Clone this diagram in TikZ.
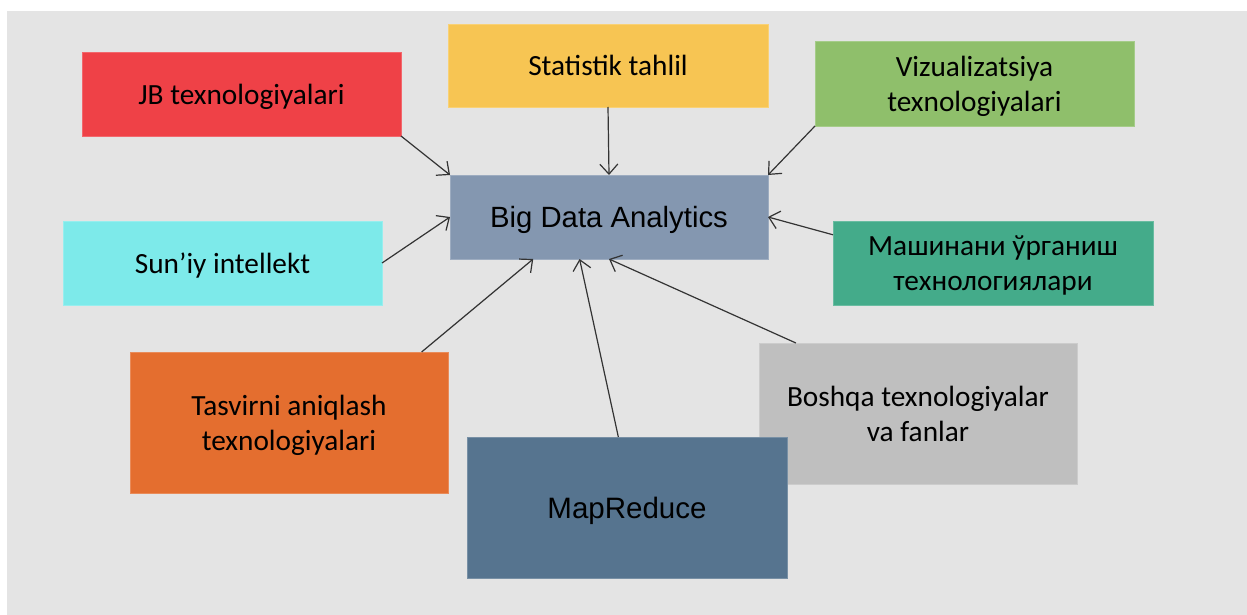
\documentclass[tikz,border=0pt]{standalone}
\usepackage{fontspec}
\setmainfont{Carlito}
\newfontfamily\arialfont{Liberation Sans}
\usetikzlibrary{arrows.meta}

\definecolor{bggray}{HTML}{E4E4E4}
\definecolor{jbred}{HTML}{EF4147}
\definecolor{statyellow}{HTML}{F7C553}
\definecolor{vizgreen}{HTML}{8FBF6B}
\definecolor{bdablue}{HTML}{8497B0}
\definecolor{suncyan}{HTML}{7DEAEA}
\definecolor{mashteal}{HTML}{44AB8A}
\definecolor{tasorange}{HTML}{E46E2F}
\definecolor{mrblue}{HTML}{56748F}
\definecolor{boshgray}{HTML}{BFBFBF}

\begin{document}
\begin{tikzpicture}[x=1pt, y=-1pt,
		box/.style={rectangle, inner sep=0pt, outer sep=0pt, align=center,
			fill=#1, draw=#1!80!white, line width=0.8pt, text depth=0pt,
			font=\fontsize{29.3}{35}\selectfont},
		arr/.style={-{Straight Barb[length=10pt,width=18pt]}, draw=black!80, line width=1.2pt}]
			\useasboundingbox (0, 0) rectangle (1247, 615);
			\fill [white] (0, 0) rectangle (1247, 615);
			\fill [bggray] (7, 11) rectangle (1247, 615);

			\node (bda) [box=bdablue, minimum width=318, minimum height=84, font=\arialfont\fontsize{29.3}{35}\selectfont] at (609, 217) {Big Data Analytics};
			\node (jb) [box=jbred, minimum width=319, minimum height=84] at (241.5, 94) {JB texnologiyalari};
			\node (stat) [box=statyellow, minimum width=320, minimum height=83] at (608, 65.5) {Statistik tahlil};
			\node (viz) [box=vizgreen, minimum width=319, minimum height=85] at (974.5, 83.5) {Vizualizatsiya\\texnologiyalari};
			\node (sun) [box=suncyan, minimum width=319, minimum height=84] at (222.5, 263) {Sun’iy intellekt};
			\node (mash) [box=mashteal, minimum width=320, minimum height=84] at (993, 263) {Машинани ўрганиш\\технологиялари};
			\node (tas) [box=tasorange, minimum width=318, minimum height=141] at (289, 422.5) {Tasvirni aniqlash\\texnologiyalari};
			\node (bosh) [box=boshgray, minimum width=318, minimum height=141] at (918, 413.5) {Boshqa texnologiyalar\\va fanlar};
			\node (mapr) [box=mrblue, minimum width=320, minimum height=141, font=\arialfont\fontsize{29.5}{35}\selectfont] at (627, 507.5) {MapReduce};

			\draw [arr] (jb.south east) to (bda.north west);
			\draw [arr] (stat.south) to (bda.north);
			\draw [arr] (viz.south west) to (bda.north east);
			\draw [arr] (sun.east) to (bda.west);
			\draw [arr] (mash.170) to (bda.east);
			\draw [arr] (tas.28) to (bda.209);
			\draw [arr] (mapr.97) to (bda.235);
			\draw [arr] (bosh.150) to (bda.south);
		\end{tikzpicture}
\end{document}
